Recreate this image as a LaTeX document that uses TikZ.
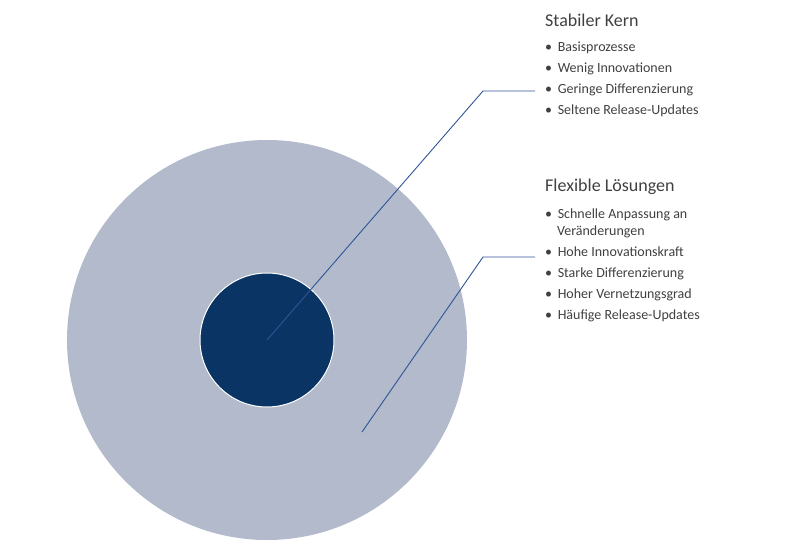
\documentclass[tikz,border=0pt]{standalone}
\usepackage{fontspec}
\setmainfont{Carlito}
\definecolor{outerfill}{HTML}{B2BACB}
\definecolor{innerfill}{HTML}{0A3464}
\definecolor{leader}{HTML}{2F5597}
\definecolor{txt}{HTML}{404040}
\tikzset{
  head/.style={anchor=west,text=txt,font=\fontsize{18}{20}\selectfont,inner sep=0pt},
  item/.style={anchor=north west,text=txt,font=\fontsize{14}{17}\selectfont,inner sep=0pt,align=left},
  leaderline/.style={draw=leader,line width=0.9pt}
}
\begin{document}
\begin{tikzpicture}[x=1pt,y=-1pt]
  \useasboundingbox (0,0) rectangle (800,541);

  \fill[outerfill] (267,340) circle (200);
  \node[circle,fill=innerfill,draw=white,line width=1pt,minimum size=134pt,inner sep=0pt] (kern) at (267,340) {};
  \coordinate (flex) at (362,432);
  \coordinate (k1) at (483,91);
  \coordinate (k2) at (535,91);
  \coordinate (f1) at (483,257);
  \coordinate (f2) at (535,257);

  \draw[leaderline] (kern.center) -- (k1) -- (k2);
  \draw[leaderline] (flex) -- (f1) -- (f2);

  % Stabiler Kern
  \node[head] (kernhead) at (545,20) {Stabiler Kern};
  \foreach \y/\txt in {42/Basisprozesse, 63/Wenig Innovationen, 84/Geringe Differenzierung, 105/Seltene Release-Updates} {
    \node[item] at (545,\y) {•\hspace{0.4em}\txt};
  }

  % Flexible Loesungen
  \node[head] (flexhead) at (545,187) {Flexible Lösungen};
  \node[item] (f0) at (545,209) {•\hspace{0.4em}Schnelle Anpassung an\\\hspace{0.85em}Veränderungen};
  \foreach \y/\txt in {247/Hohe Innovationskraft, 268/Starke Differenzierung, 289/Hoher Vernetzungsgrad, 310/Häufige Release-Updates} {
    \node[item] at (545,\y) {•\hspace{0.4em}\txt};
  }
\end{tikzpicture}
\end{document}
